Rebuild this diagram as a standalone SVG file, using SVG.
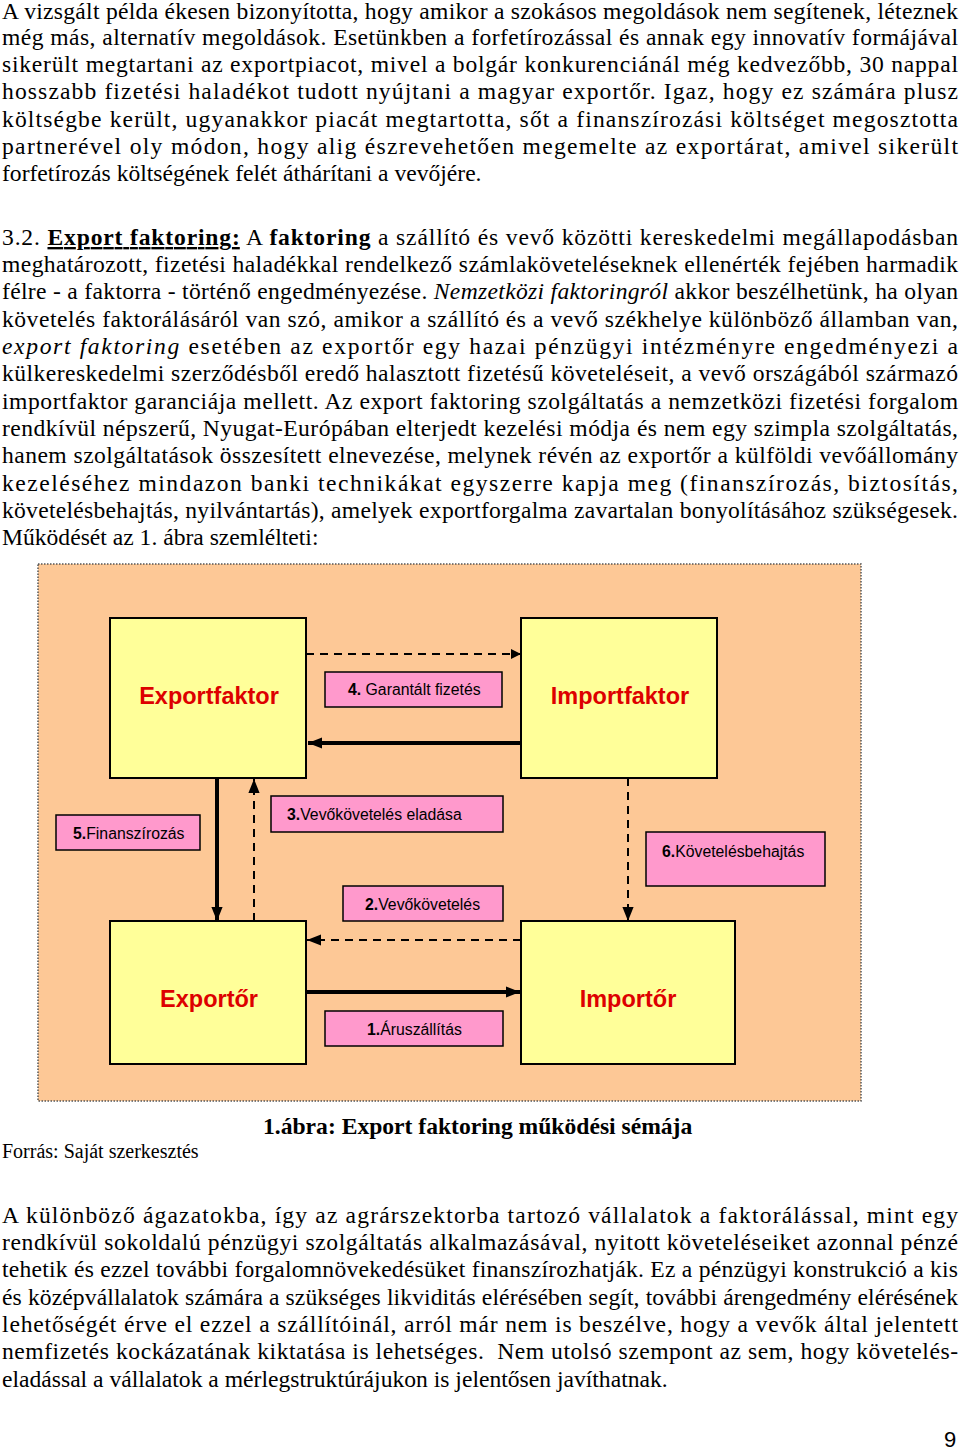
<svg xmlns="http://www.w3.org/2000/svg" width="960" height="1451" viewBox="0 0 960 1451">
<style>
.p{font-family:"Liberation Serif","Times New Roman",serif;font-size:23.6px;fill:#000}
.big{fill:#ffff99;stroke:#000;stroke-width:2}
.lbl{fill:#ff99cc;stroke:#000;stroke-width:1.5}
.t{font-family:"Liberation Sans",Arial,sans-serif;font-size:23.5px;font-weight:bold;fill:#dd0000;text-anchor:middle}
.s{font-family:"Liberation Sans",Arial,sans-serif;font-size:15.8px;fill:#000}
.th{stroke:#000;stroke-width:4;fill:none}
.da{stroke:#000;stroke-width:2;stroke-dasharray:8,6;fill:none}
</style>
<defs>
<marker id="a" viewBox="0 0 10 10" refX="10" refY="5" markerWidth="10" markerHeight="10" orient="auto" markerUnits="userSpaceOnUse"><path d="M0,0L10,5L0,10z" fill="#000"/></marker>
<marker id="ab" viewBox="0 0 10 10" refX="10" refY="5" markerWidth="14" markerHeight="14" orient="auto" markerUnits="userSpaceOnUse"><path d="M0,1L10,5L0,9z" fill="#000"/></marker>
</defs>
<rect width="960" height="1451" fill="#fff"/>
<g id="para1" class="p">
<text x="2" y="19" textLength="956" lengthAdjust="spacing">A vizsgált példa ékesen bizonyította, hogy amikor a szokásos megoldások nem segítenek, léteznek</text>
<text x="2" y="45" textLength="956" lengthAdjust="spacing">még más, alternatív megoldások. Esetünkben a forfetírozással és annak egy innovatív formájával</text>
<text x="2" y="72" textLength="956" lengthAdjust="spacing">sikerült megtartani az exportpiacot, mivel a bolgár konkurenciánál még kedvezőbb, 30 nappal</text>
<text x="2" y="99" textLength="956" lengthAdjust="spacing">hosszabb fizetési haladékot tudott nyújtani a magyar exportőr. Igaz, hogy ez számára plusz</text>
<text x="2" y="127" textLength="956" lengthAdjust="spacing">költségbe került, ugyanakkor piacát megtartotta, sőt a finanszírozási költséget megosztotta</text>
<text x="2" y="154" textLength="956" lengthAdjust="spacing">partnerével oly módon, hogy alig észrevehetően megemelte az exportárat, amivel sikerült</text>
<text x="2" y="181">forfetírozás költségének felét áthárítani a vevőjére.</text>
</g>
<g id="para2" class="p">
<text x="2" y="245" textLength="956" lengthAdjust="spacing">3.2. <tspan font-weight="bold" text-decoration="underline">Export faktoring:</tspan> A <tspan font-weight="bold">faktoring</tspan> a szállító és vevő közötti kereskedelmi megállapodásban</text>
<text x="2" y="272" textLength="956" lengthAdjust="spacing">meghatározott, fizetési haladékkal rendelkező számlaköveteléseknek ellenérték fejében harmadik</text>
<text x="2" y="299" textLength="956" lengthAdjust="spacing">félre - a faktorra - történő engedményezése. <tspan font-style="italic">Nemzetközi faktoringról</tspan> akkor beszélhetünk, ha olyan</text>
<text x="2" y="327" textLength="956" lengthAdjust="spacing">követelés faktorálásáról van szó, amikor a szállító és a vevő székhelye különböző államban van,</text>
<text x="2" y="354" textLength="956" lengthAdjust="spacing"><tspan font-style="italic">export faktoring</tspan> esetében az exportőr egy hazai pénzügyi intézményre engedményezi a</text>
<text x="2" y="381" textLength="956" lengthAdjust="spacing">külkereskedelmi szerződésből eredő halasztott fizetésű követeléseit, a vevő országából származó</text>
<text x="2" y="409" textLength="956" lengthAdjust="spacing">importfaktor garanciája mellett. Az export faktoring szolgáltatás a nemzetközi fizetési forgalom</text>
<text x="2" y="436" textLength="956" lengthAdjust="spacing">rendkívül népszerű, Nyugat-Európában elterjedt kezelési módja és nem egy szimpla szolgáltatás,</text>
<text x="2" y="463" textLength="956" lengthAdjust="spacing">hanem szolgáltatások összesített elnevezése, melynek révén az exportőr a külföldi vevőállomány</text>
<text x="2" y="491" textLength="956" lengthAdjust="spacing">kezeléséhez mindazon banki technikákat egyszerre kapja meg (finanszírozás, biztosítás,</text>
<text x="2" y="518" textLength="956" lengthAdjust="spacing">követelésbehajtás, nyilvántartás), amelyek exportforgalma zavartalan bonyolításához szükségesek.</text>
<text x="2" y="545">Működését az 1. ábra szemlélteti:</text>
</g>
<rect x="38" y="564" width="823" height="537" fill="#fdc896" stroke="#555" stroke-width="1.5" stroke-dasharray="1.5,1.5"/>
<g id="connectors">
<line class="da" x1="306" y1="654" x2="521" y2="654" marker-end="url(#a)"/>
<line class="th" x1="521" y1="743" x2="308" y2="743" marker-end="url(#ab)"/>
<line class="th" x1="217" y1="778" x2="217" y2="921" marker-end="url(#ab)"/>
<line class="da" x1="254" y1="921" x2="254" y2="779" marker-end="url(#ab)"/>
<line class="da" x1="628" y1="778" x2="628" y2="921" marker-end="url(#ab)"/>
<line class="da" x1="521" y1="940" x2="307" y2="940" marker-end="url(#ab)"/>
<line class="th" x1="306" y1="992" x2="520" y2="992" marker-end="url(#ab)"/>
</g>
<g id="exportfaktor"><rect class="big" x="110" y="618" width="196" height="160"/><text class="t" x="209" y="704">Exportfaktor</text></g>
<g id="importfaktor"><rect class="big" x="521" y="618" width="196" height="160"/><text class="t" x="620" y="704">Importfaktor</text></g>
<g id="exporter"><rect class="big" x="110" y="921" width="196" height="143"/><text class="t" x="209" y="1007">Exportőr</text></g>
<g id="importer"><rect class="big" x="521" y="921" width="214" height="143"/><text class="t" x="628" y="1007">Importőr</text></g>
<g id="l4"><rect class="lbl" x="325" y="672" width="177" height="35"/><text class="s" x="348" y="695"><tspan font-weight="bold">4.</tspan> Garantált fizetés</text></g>
<g id="l5"><rect class="lbl" x="56" y="815" width="144" height="35"/><text class="s" x="73" y="839"><tspan font-weight="bold">5.</tspan>Finanszírozás</text></g>
<g id="l3"><rect class="lbl" x="271" y="796" width="232" height="36"/><text class="s" x="287" y="820"><tspan font-weight="bold">3.</tspan>Vevőkövetelés eladása</text></g>
<g id="l6"><rect class="lbl" x="646" y="832" width="179" height="54"/><text class="s" x="662" y="857"><tspan font-weight="bold">6.</tspan>Követelésbehajtás</text></g>
<g id="l2"><rect class="lbl" x="343" y="886" width="160" height="35"/><text class="s" x="365" y="910"><tspan font-weight="bold">2.</tspan>Vevőkövetelés</text></g>
<g id="l1"><rect class="lbl" x="325" y="1011" width="178" height="35"/><text class="s" x="367" y="1035"><tspan font-weight="bold">1.</tspan>Áruszállítás</text></g>
<text class="p" x="263" y="1134" font-weight="bold">1.ábra: Export faktoring működési sémája</text>
<text class="p" x="2" y="1158" style="font-size:20px">Forrás: Saját szerkesztés</text>
<g id="para3" class="p">
<text x="2" y="1223" textLength="956" lengthAdjust="spacing">A különböző ágazatokba, így az agrárszektorba tartozó vállalatok a faktorálással, mint egy</text>
<text x="2" y="1250" textLength="956" lengthAdjust="spacing">rendkívül sokoldalú pénzügyi szolgáltatás alkalmazásával, nyitott követeléseiket azonnal pénzé</text>
<text x="2" y="1277" textLength="956" lengthAdjust="spacing">tehetik és ezzel további forgalomnövekedésüket finanszírozhatják. Ez a pénzügyi konstrukció a kis</text>
<text x="2" y="1305" textLength="956" lengthAdjust="spacing">és középvállalatok számára a szükséges likviditás elérésében segít, további árengedmény elérésének</text>
<text x="2" y="1332" textLength="956" lengthAdjust="spacing">lehetőségét érve el ezzel a szállítóinál, arról már nem is beszélve, hogy a vevők által jelentett</text>
<text x="2" y="1359" textLength="956" lengthAdjust="spacing" xml:space="preserve">nemfizetés kockázatának kiktatása is lehetséges.  Nem utolsó szempont az sem, hogy követelés-</text>
<text x="2" y="1387">eladással a vállalatok a mérlegstruktúrájukon is jelentősen javíthatnak.</text>
</g>
<text x="944" y="1447" font-family="Liberation Sans,Arial,sans-serif" font-size="22">9</text>
</svg>
